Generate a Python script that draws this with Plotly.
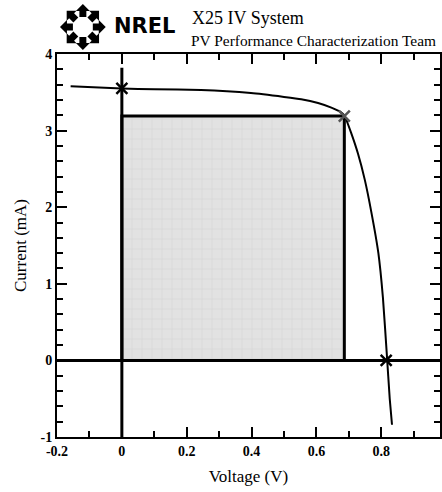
import math
import plotly.graph_objects as go

# ---- data ----
voltage = [-0.158, 0.0, 0.1, 0.244, 0.398, 0.50, 0.553, 0.605, 0.646, 0.676, 0.686,
           0.707, 0.728, 0.749, 0.770, 0.791, 0.805, 0.817, 0.826, 0.833]
current = [3.58, 3.55, 3.54, 3.53, 3.49, 3.44, 3.41, 3.36, 3.30, 3.24, 3.20,
           2.97, 2.70, 2.36, 1.92, 1.40, 0.82, 0.08, -0.50, -0.84]

key_v = [0.0, 0.686, 0.815]      # Isc, Pmax, Voc
key_i = [3.55, 3.19, 0.0]

vmp = 0.686
imp = 3.19

x_tickvals = [-0.2, 0, 0.2, 0.4, 0.6, 0.8]
x_ticktext = ["-0.2", "0", "0.2", "0.4", "0.6", "0.8"]
y_tickvals = [-1, 0, 1, 2, 3, 4]
y_ticktext = ["-1", "0", "1", "2", "3", "4"]

title1 = "X25 IV System"
title2 = "PV Performance Characterization Team"
logo_text = "NREL"

SERIF = "Liberation Serif, Times New Roman, serif"

fig = go.Figure()

# max power rectangle
fig.add_trace(go.Scatter(
    x=[0, vmp, vmp, 0, 0], y=[0, 0, imp, imp, 0],
    mode="lines", fill="toself",
    fillcolor="#e2e2e2",
    fillpattern=dict(shape="+", size=10, solidity=0.12,
                     fgcolor="#c4c4c4", bgcolor="#e2e2e2"),
    line=dict(color="black", width=3), hoverinfo="skip", showlegend=False))

# axes lines through zero
fig.add_trace(go.Scatter(x=[-0.2, 0.985], y=[0, 0], mode="lines",
                         line=dict(color="black", width=3), showlegend=False))
fig.add_trace(go.Scatter(x=[0, 0], y=[-1, 3.82], mode="lines",
                         line=dict(color="black", width=3), showlegend=False))

# IV curve
fig.add_trace(go.Scatter(x=voltage, y=current, mode="lines",
                         line=dict(color="black", width=2, shape="spline", smoothing=0.4),
                         showlegend=False))

# key points
fig.add_trace(go.Scatter(x=key_v, y=key_i, mode="markers",
                         marker=dict(symbol="x-thin", size=11,
                                     line=dict(color=["black", "#555555", "black"], width=2.5)),
                         showlegend=False))

# ---- layout geometry ----
W, H = 442, 492
ML, MR, MT, MB = 57, 0, 54, 55
PW, PH = W - ML - MR, H - MT - MB


def px2paper(px, py):
    return (px - ML) / PW, (H - MB - py) / PH


# logo arrows (decoration)
shapes = []
cx, cy = 83, 27
for k in range(8):
    a = k * math.pi / 4
    pts = [(10, -3.5), (16, -3.5), (16, -7), (23, 0), (16, 7), (16, 3.5), (10, 3.5)]
    path = ""
    for j, (r, t) in enumerate(pts):
        px = cx + r * math.cos(a) - t * math.sin(a)
        py = cy - (r * math.sin(a) + t * math.cos(a))
        xx, yy = px2paper(px, py)
        path += ("M" if j == 0 else "L") + f"{xx:.5f},{yy:.5f}"
    path += "Z"
    shapes.append(dict(type="path", path=path, xref="paper", yref="paper",
                       fillcolor="black", line=dict(width=0)))

ann = []
lx, ly = px2paper(112, 26)
ann.append(dict(text=f"<b>{logo_text}</b>", x=lx, y=ly, xref="paper", yref="paper",
                xanchor="left", yanchor="middle", showarrow=False,
                font=dict(family="DejaVu Sans", size=21, color="black")))
tx, ty = px2paper(191, 18)
ann.append(dict(text=title1, x=tx, y=ty, xref="paper", yref="paper",
                xanchor="left", yanchor="middle", showarrow=False,
                font=dict(family=SERIF, size=18, color="black")))
tx2, ty2 = px2paper(190, 40)
ann.append(dict(text=title2, x=tx2, y=ty2, xref="paper", yref="paper",
                xanchor="left", yanchor="middle", showarrow=False,
                font=dict(family=SERIF, size=15.4, color="black")))

fig.update_layout(
    width=W, height=H,
    margin=dict(l=ML, r=MR, t=MT, b=MB),
    paper_bgcolor="white", plot_bgcolor="white",
    showlegend=False,
    shapes=shapes, annotations=ann,
    font=dict(family=SERIF, color="black"),
)

fig.update_xaxes(
    range=[-0.2, 0.981], showgrid=False, zeroline=False,
    showline=True, linecolor="black", linewidth=2, mirror="allticks",
    ticks="inside", ticklen=10, tickwidth=2, tickcolor="black",
    tickvals=x_tickvals, ticktext=[f"<b>{t}</b>" for t in x_ticktext],
    tickfont=dict(family=SERIF, size=14, color="black"),
    minor=dict(ticks="inside", ticklen=6, tickwidth=2, dtick=0.1, tick0=0, tickcolor="black"),
    title=dict(text="Voltage (V)", font=dict(family=SERIF, size=17, color="#000000"), standoff=12),
)
fig.update_yaxes(
    range=[-1, 4], showgrid=False, zeroline=False,
    showline=True, linecolor="black", linewidth=2, mirror="allticks",
    ticks="inside", ticklen=10, tickwidth=2, tickcolor="black",
    tickvals=y_tickvals, ticktext=[f"<b>{t}</b>" for t in y_ticktext],
    tickfont=dict(family=SERIF, size=14, color="black"),
    minor=dict(ticks="inside", ticklen=6, tickwidth=2, dtick=0.2, tick0=0, tickcolor="black"),
    title=dict(text="Current (mA)", font=dict(family=SERIF, size=17, color="#000000"), standoff=10),
)

fig.write_html("out.html")
